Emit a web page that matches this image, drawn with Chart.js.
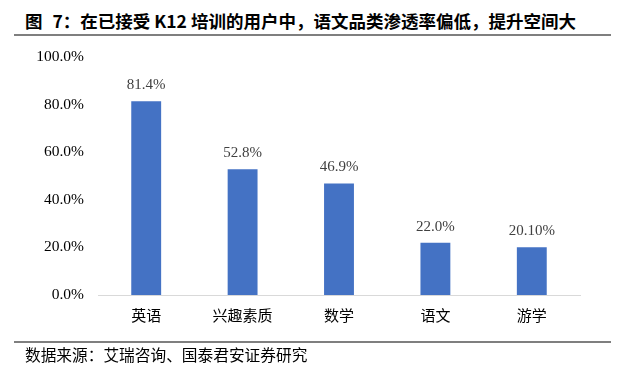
<!DOCTYPE html>
<html>
<head>
<meta charset="utf-8">
<script src="https://cdn.jsdelivr.net/npm/chart.js@4"></script>
<style>
  body { margin: 0; background: #fff; }
  #wrap { position: relative; width: 628px; height: 374px; overflow: hidden; background: #fff; }
  #chart { position: absolute; left: 0; top: 0; }
  .title { position: absolute; left: 25px; top: 11px; font: bold 17.5px/20px "Noto Sans CJK SC"; color: #000; white-space: nowrap; }
  .source { position: absolute; left: 25px; top: 346px; font: 15.7px/18px "Noto Sans CJK SC"; color: #000; white-space: nowrap; }
  .rule { position: absolute; left: 14px; width: 597px; height: 2px; background: #7f7f7f; }
</style>
</head>
<body>
<div id="wrap">
  <div class="title">图 <span style="margin-left:6px">7</span>：在已接受 K12 培训的用户中，语文品类渗透率偏低，提升空间大</div>
  <div class="rule" style="top:34px"></div>
  <canvas id="chart" width="628" height="374"></canvas>
  <div class="rule" style="top:341px"></div>
  <div class="source">数据来源：艾瑞咨询、国泰君安证券研究</div>
</div>
<script>
const categories = ['英语', '兴趣素质', '数学', '语文', '游学'];
const values = [81.4, 52.8, 46.9, 22.0, 20.1];
const valueLabels = ['81.4%', '52.8%', '46.9%', '22.0%', '20.10%'];
const yTicks = [0, 20, 40, 60, 80, 100];

const barLabels = {
    id: 'barLabels',
    afterDatasetsDraw(chart) {
        const ctx = chart.ctx;
        const meta = chart.getDatasetMeta(0);
        ctx.save();
        ctx.font = '15px "Liberation Serif"';
        ctx.fillStyle = '#404040';
        ctx.textAlign = 'center';
        ctx.textBaseline = 'middle';
        meta.data.forEach((bar, i) => {
            ctx.fillText(valueLabels[i], bar.x, bar.y - 16);
        });
        ctx.restore();
    }
};

new Chart(document.getElementById('chart'), {
    type: 'bar',
    data: {
        labels: categories,
        datasets: [{
            data: values,
            backgroundColor: '#4472C4',
            barPercentage: 0.31,
            categoryPercentage: 1,
        }]
    },
    options: {
        responsive: false,
        animation: false,
        layout: { padding: { top: 57, right: 48, left: 0, bottom: 0 } },
        plugins: {
            legend: { display: false },
            tooltip: { enabled: false },
        },
        scales: {
            x: {
                grid: { display: false, drawTicks: false },
                border: { display: true, color: '#d9d9d9', width: 1 },
                ticks: {
                    color: '#000',
                    padding: 11,
                    font: { family: '"Noto Sans CJK SC"', size: 15 },
                },
                afterFit: (scale) => { scale.height = 79; },
            },
            y: {
                min: 0,
                max: 100,
                grid: { display: false, drawTicks: false },
                border: { display: false },
                afterBuildTicks: (scale) => { scale.ticks = yTicks.map(v => ({ value: v })); },
                ticks: {
                    color: '#000',
                    padding: 14,
                    font: { family: '"Liberation Serif"', size: 15.5 },
                    callback: (v) => v.toFixed(1) + '%',
                },
                afterFit: (scale) => { scale.width = 98; },
            }
        }
    },
    plugins: [barLabels]
});
</script>
</body>
</html>
